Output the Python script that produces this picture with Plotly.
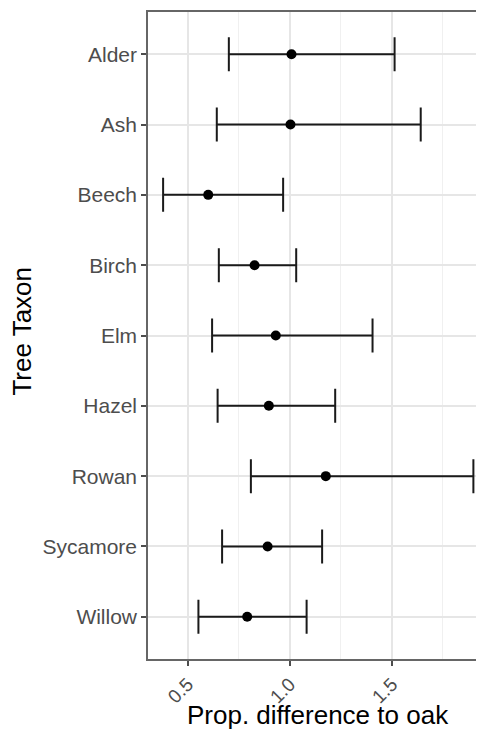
import plotly.graph_objects as go

taxa = ["Alder", "Ash", "Beech", "Birch", "Elm", "Hazel", "Rowan", "Sycamore", "Willow"]
estimate = [1.008, 1.003, 0.600, 0.827, 0.931, 0.897, 1.176, 0.891, 0.791]
lower = [0.701, 0.642, 0.379, 0.652, 0.619, 0.646, 0.809, 0.668, 0.552]
upper = [1.513, 1.641, 0.967, 1.031, 1.405, 1.222, 1.899, 1.158, 1.082]
reference_value = 1.0
x_ticks = [0.5, 1.0, 1.5]
x_tick_labels = ["0.5", "1.0", "1.5"]

err_plus = [u - e for u, e in zip(upper, estimate)]
err_minus = [e - l for e, l in zip(estimate, lower)]

fig = go.Figure()
fig.add_trace(go.Scatter(
    x=estimate, y=taxa, mode="markers",
    marker=dict(color="black", size=10),
    error_x=dict(type="data", symmetric=False, array=err_plus, arrayminus=err_minus,
                 color="#1a1a1a", thickness=2, width=17),
    showlegend=False,
))

fig.add_shape(type="line", xref="x", yref="paper", x0=reference_value, x1=reference_value,
              y0=0, y1=1, line=dict(color="#444444", width=1.5, dash="5px,3px"), layer="below")

font_family = "Liberation Sans, Arial, sans-serif"
# page body has an 8px margin, so the figure is shrunk by 8px to fit the window
fig.update_layout(
    width=476, height=723,
    margin=dict(l=140, r=0, t=4, b=72, autoexpand=False),
    paper_bgcolor="white", plot_bgcolor="white",
    font=dict(family=font_family),
    xaxis=dict(
        range=[0.305, 1.951],
        automargin=False,
        tickvals=x_ticks, ticktext=x_tick_labels,
        tickangle=-45,
        tickfont=dict(size=19, color="#4d4d4d"),
        ticks="outside", ticklen=5, tickcolor="#4d4d4d", tickwidth=1.5,
        showgrid=True, gridcolor="#e6e6e6", gridwidth=1.5,
        minor=dict(dtick=0.25, tick0=0.25, showgrid=True, gridcolor="#f0f0f0", gridwidth=0.8, ticks=""),
        showline=True, linecolor="#666666", linewidth=1.5, mirror=True,
        zeroline=False,
    ),
    yaxis=dict(
        type="category",
        automargin=False,
        categoryorder="array", categoryarray=taxa,
        range=[len(taxa) - 0.4, -0.6],
        tickfont=dict(size=21, color="#4d4d4d"),
        ticks="outside", ticklen=5, tickcolor="#4d4d4d", tickwidth=1.5,
        showgrid=True, gridcolor="#e6e6e6", gridwidth=1.5,
        showline=True, linecolor="#666666", linewidth=1.5, mirror=False,
        zeroline=False,
    ),
    annotations=[
        dict(text="Prop. difference to oak", xref="paper", yref="paper",
             x=0.506, y=-0.113, xanchor="center", yanchor="bottom", showarrow=False,
             font=dict(size=26, color="black")),
        dict(text="Tree Taxon", xref="paper", yref="paper", textangle=-90,
             x=-0.375, y=0.506, xanchor="center", yanchor="middle", showarrow=False,
             font=dict(size=26, color="black")),
    ],
)

fig.write_html("out.html")
